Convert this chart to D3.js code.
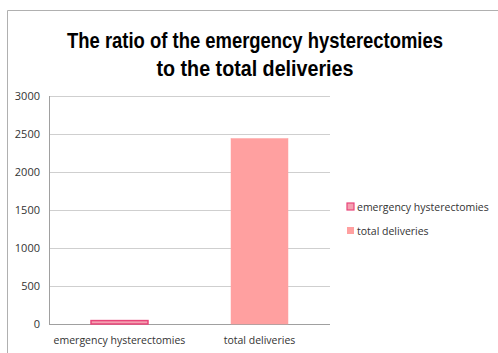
<!DOCTYPE html>
<html>
<head>
<meta charset="utf-8">
<script src="https://cdn.jsdelivr.net/npm/d3@7"></script>
<style>
  body { margin: 0; background: #fff; }
  svg { display: block; }
</style>
</head>
<body>
<svg id="chart" width="498" height="353"></svg>
<script>
const categories = ["emergency hysterectomies", "total deliveries"];
const values = [45, 2440];
const fills = ["#f4a0b0", "#ffa0a0"];
const strokes = ["#e8457a", "#ffa0a0"];
const yTicks = [0, 500, 1000, 1500, 2000, 2500, 3000];
const titleLines = ["The ratio of the emergency hysterectomies", "to the total deliveries"];
const titleWidths = [376, 197];

const svg = d3.select("#chart");
const font = "'Open Sans', 'Liberation Sans Narrow', sans-serif";

// outer frame (only top and left visible in the crop)
svg.append("path")
  .attr("d", "M7.5,353 V10.5 H498")
  .attr("fill", "none")
  .attr("stroke", "#b0b0b0")
  .attr("stroke-width", 1);

// title
svg.append("g").selectAll("text")
  .data(titleLines)
  .join("text")
  .attr("x", 255)
  .attr("y", (d, i) => 48 + i * 28)
  .attr("text-anchor", "middle")
  .attr("textLength", (d, i) => titleWidths[i])
  .attr("lengthAdjust", "spacingAndGlyphs")
  .style("font-family", "'Liberation Sans Narrow', sans-serif")
  .style("font-weight", "bold")
  .style("font-size", "22px")
  .style("fill", "#000")
  .text(d => d);

const margin = { left: 49, right: 330, top: 96, bottom: 324 };

const x = d3.scaleBand()
  .domain(categories)
  .range([margin.left, margin.right])
  .paddingInner(0.593)
  .paddingOuter(0.3);

const y = d3.scaleLinear()
  .domain([0, 3000])
  .range([margin.bottom, margin.top]);

// gridlines
svg.append("g").selectAll("line")
  .data(yTicks)
  .join("line")
  .attr("x1", margin.left)
  .attr("x2", margin.right)
  .attr("y1", d => Math.round(y(d)) + 0.5)
  .attr("y2", d => Math.round(y(d)) + 0.5)
  .attr("stroke", d => d === 0 ? "#a0a0a0" : "#cfcfcf")
  .attr("stroke-width", 1);

// y axis line
svg.append("line")
  .attr("x1", margin.left + 0.5)
  .attr("x2", margin.left + 0.5)
  .attr("y1", margin.top)
  .attr("y2", margin.bottom)
  .attr("stroke", "#a0a0a0");

// y tick labels
svg.append("g").selectAll("text")
  .data(yTicks)
  .join("text")
  .attr("x", 40)
  .attr("y", d => y(d) + 4)
  .attr("text-anchor", "end")
  .style("font-family", font)
  .style("font-size", "11px")
  .style("fill", "#333")
  .text(d => d);

// bars
svg.append("g").selectAll("rect")
  .data(values)
  .join("rect")
  .attr("x", (d, i) => x(categories[i]))
  .attr("y", d => y(d))
  .attr("width", x.bandwidth())
  .attr("height", d => y(0) - y(d))
  .attr("fill", (d, i) => fills[i])
  .attr("stroke", (d, i) => strokes[i])
  .attr("stroke-width", (d, i) => i === 0 ? 1.5 : 0.5);

// category labels
svg.append("g").selectAll("text")
  .data(categories)
  .join("text")
  .attr("x", d => x(d) + x.bandwidth() / 2)
  .attr("y", 344)
  .attr("text-anchor", "middle")
  .style("font-family", font)
  .style("font-size", "10.5px")
  .style("fill", "#333")
  .text(d => d);

// legend
const legend = svg.append("g").selectAll("g")
  .data(categories)
  .join("g")
  .attr("transform", (d, i) => `translate(347, ${203 + i * 24})`);

legend.append("rect")
  .attr("width", 7)
  .attr("height", 7)
  .attr("fill", (d, i) => fills[i])
  .attr("stroke", (d, i) => strokes[i])
  .attr("stroke-width", (d, i) => i === 0 ? 1.2 : 0);

legend.append("text")
  .attr("x", 10)
  .attr("y", 7.5)
  .style("font-family", font)
  .style("font-size", "10.5px")
  .style("fill", "#333")
  .text(d => d);
</script>
</body>
</html>
